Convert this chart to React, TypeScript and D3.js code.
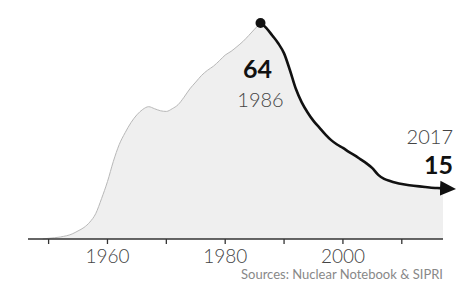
import React, { useEffect } from "react";
import * as d3 from "d3";

// warheads (thousands)
const years = [1949, 1950, 1952, 1954, 1955, 1956, 1957, 1958, 1959, 1960, 1961, 1962, 1963, 1964, 1965, 1966, 1967, 1968, 1969, 1970, 1971, 1972, 1973, 1974, 1975, 1976, 1977, 1978, 1979, 1980, 1981, 1982, 1983, 1984, 1985, 1986, 1987, 1988, 1989, 1990, 1991, 1992, 1993, 1994, 1995, 1996, 1997, 1998, 1999, 2000, 2001, 2002, 2003, 2004, 2005, 2006, 2007, 2008, 2009, 2010, 2011, 2012, 2013, 2014, 2015, 2016, 2017];
const warheads = [0, 0.2, 0.6, 1.5, 2.4, 3.4, 5, 7.5, 12, 17, 23, 28, 31.5, 34.5, 36.8, 38.4, 39.2, 38.6, 38, 37.8, 38.6, 39.8, 42, 44.5, 46.5, 48.5, 50, 51.2, 52.8, 54.5, 55.6, 57, 58.5, 60.3, 62.2, 64, 62.5, 60.3, 58, 55, 50, 44.5, 40.5, 37.5, 35, 33, 31, 29.3, 28, 27, 25.8, 24.8, 23.6, 22.4, 21, 19, 17.8, 17.2, 16.7, 16.3, 16, 15.8, 15.6, 15.4, 15.2, 15.1, 15];
const tickYears = [1950, 1960, 1970, 1980, 1990, 2000, 2010];
const labelYears = [1960, 1980, 2000];
const peakYear = 1986;
const lastYear = 2017;
const source = "Sources: Nuclear Notebook & SIPRI";

const W = 470;
const H = 283;
const font = "Lato, 'Open Sans', sans-serif";

export default function App() {
  useEffect(() => {
    document.body.style.margin = "0";
  }, []);

  const x = d3.scaleLinear().domain([1946.5, 2017]).range([28, 443]);
  const y = d3.scaleLinear().domain([0, 64]).range([239, 23]);

  const data = years.map((yr, i) => ({ yr, v: warheads[i] }));
  const peakIdx = years.indexOf(peakYear);
  const lastIdx = years.indexOf(lastYear);
  const before = data.slice(0, peakIdx + 1);
  const after = data.slice(peakIdx);

  const area = d3
    .area<{ yr: number; v: number }>()
    .x((d) => x(d.yr))
    .y0(y(0))
    .y1((d) => y(d.v))
    .curve(d3.curveMonotoneX);

  const line = d3
    .line<{ yr: number; v: number }>()
    .x((d) => x(d.yr))
    .y((d) => y(d.v))
    .curve(d3.curveMonotoneX);

  const peak = data[peakIdx];
  const last = data[lastIdx];

  return (
    <svg width={W} height={H} style={{ display: "block", background: "#fff" }}>
      <defs>
        <marker
          id="arrow"
          markerUnits="userSpaceOnUse"
          markerWidth={20}
          markerHeight={20}
          viewBox="0 -10 20 20"
          refX={3}
          refY={0}
          orient="auto"
        >
          <path d="M0,-7.5L16,0L0,7.5Z" fill="#111" />
        </marker>
      </defs>

      <path d={area(data) || ""} fill="#efefef" />
      <path d={line(before) || ""} fill="none" stroke="#b8b8b8" strokeWidth={1} />
      <path
        d={line(after) || ""}
        fill="none"
        stroke="#111"
        strokeWidth={2.6}
        strokeLinejoin="round"
        markerEnd="url(#arrow)"
      />
      <circle cx={x(peak.yr)} cy={y(peak.v)} r={5} fill="#111" />

      {/* axis */}
      <line x1={x.range()[0]} x2={x.range()[1]} y1={y(0)} y2={y(0)} stroke="#333" strokeWidth={1.5} />
      {tickYears.map((t) => (
        <line key={t} x1={x(t)} x2={x(t)} y1={y(0)} y2={y(0) + 5} stroke="#333" strokeWidth={1.3} />
      ))}
      {labelYears.map((t) => (
        <text key={t} x={x(t)} y={263} textAnchor="middle" fontFamily={font} fontWeight={300} fontSize={19} fill="#444">
          {t}
        </text>
      ))}

      {/* annotations */}
      <text x={x(peak.yr) - 3} y={78} textAnchor="middle" fontFamily={font} fontWeight={700} fontSize={25} fill="#111">
        {Math.round(peak.v)}
      </text>
      <text x={x(peak.yr)} y={107} textAnchor="middle" fontFamily={font} fontWeight={300} fontSize={20} fill="#444">
        {peak.yr}
      </text>
      <text x={453} y={144} textAnchor="end" fontFamily={font} fontWeight={300} fontSize={20} fill="#444">
        {last.yr}
      </text>
      <text x={453} y={174} textAnchor="end" fontFamily={font} fontWeight={700} fontSize={25} fill="#111">
        {Math.round(last.v)}
      </text>

      <text x={443} y={279} textAnchor="end" fontFamily={font} fontWeight={400} fontSize={13} fill="#888">
        {source}
      </text>
    </svg>
  );
}
